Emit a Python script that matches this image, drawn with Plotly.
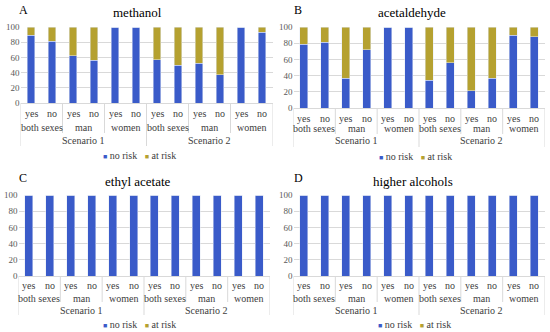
import plotly.graph_objects as go

W, H = 550, 332

scenarios = ["Scenario 1", "Scenario 2"]
groups = ["both sexes", "man", "women"]
answers = ["yes", "no"]

# % of respondents per bar, order: S1 (both yes/no, man yes/no, women yes/no), then S2
methanol_no_risk = [89, 81, 62, 56, 100, 100, 57, 50, 52, 37, 100, 93]
methanol_at_risk = [11, 19, 38, 44, 0, 0, 43, 50, 48, 63, 0, 7]
acetaldehyde_no_risk = [79, 81, 37, 72, 100, 100, 34, 56, 21, 37, 90, 88]
acetaldehyde_at_risk = [21, 19, 63, 28, 0, 0, 66, 44, 79, 63, 10, 12]
ethyl_acetate_no_risk = [100, 100, 100, 100, 100, 100, 100, 100, 100, 100, 100, 100]
ethyl_acetate_at_risk = [0, 0, 0, 0, 0, 0, 0, 0, 0, 0, 0, 0]
higher_alcohols_no_risk = [100, 100, 100, 100, 100, 100, 100, 100, 100, 100, 100, 100]
higher_alcohols_at_risk = [0, 0, 0, 0, 0, 0, 0, 0, 0, 0, 0, 0]

BLUE = "#3A5BC9"
OLIVE = "#B5A130"
GRID = "#d9d9d9"
FONT = "Liberation Serif, Times New Roman, serif"


def px_x(x):
    return x / W


def px_y(y):
    return 1 - y / H


# panel layout in pixels: x range, y range (top, bottom), label rows
panels = [
    dict(letter="A", title="methanol", no=methanol_no_risk, at=methanol_at_risk,
         x0=20.5, x1=272.5, top=27, bot=103, ans=113, grp=127, scn=140,
         grp_line=133, scn_line=146, leg=155, leg_x=139, title_x=137, title_y=12,
         letter_x=23, letter_y=10),
    dict(letter="B", title="acetaldehyde", no=acetaldehyde_no_risk, at=acetaldehyde_at_risk,
         x0=293.5, x1=544.5, top=27, bot=108, ans=118, grp=129, scn=141,
         grp_line=134, scn_line=147, leg=156, leg_x=415, title_x=412, title_y=12,
         letter_x=298, letter_y=10),
    dict(letter="C", title="ethyl acetate", no=ethyl_acetate_no_risk, at=ethyl_acetate_at_risk,
         x0=18.5, x1=269.5, top=195, bot=276, ans=285, grp=298, scn=310,
         grp_line=302, scn_line=315, leg=324, leg_x=139, title_x=138, title_y=181,
         letter_x=23, letter_y=178),
    dict(letter="D", title="higher alcohols", no=higher_alcohols_no_risk, at=higher_alcohols_at_risk,
         x0=293.5, x1=544.5, top=195, bot=276, ans=285, grp=298, scn=310,
         grp_line=302, scn_line=315, leg=324, leg_x=414, title_x=413, title_y=181,
         letter_x=298, letter_y=178),
]

pos = list(range(len(scenarios) * len(groups) * len(answers)))
answer_labels = answers * (len(scenarios) * len(groups))

fig = go.Figure()
annotations = []
shapes = []
layout = {}
label_font = dict(size=10, color="#404040", family=FONT)


def label(x, y, xref, text, font=label_font):
    return dict(x=x, y=y, xref=xref, yref="paper", text=text, showarrow=False,
                xanchor="center", yanchor="middle", font=font)


for i, p in enumerate(panels):
    n = "" if i == 0 else str(i + 1)
    xa, ya = "x" + n, "y" + n
    fig.add_trace(go.Bar(x=pos, y=p["no"], name="no risk", marker_color=BLUE,
                         xaxis=xa, yaxis=ya, showlegend=False))
    fig.add_trace(go.Bar(x=pos, y=p["at"], name="at risk", marker_color=OLIVE,
                         xaxis=xa, yaxis=ya, showlegend=False))

    layout["xaxis" + n] = dict(
        domain=[px_x(p["x0"]), px_x(p["x1"])], range=[-0.5, len(pos) - 0.5],
        showticklabels=False, showgrid=False, zeroline=False, anchor=ya,
        showline=True, linecolor=GRID, linewidth=1, fixedrange=True, automargin=False,
    )
    layout["yaxis" + n] = dict(
        domain=[px_y(p["bot"]), px_y(p["top"])], range=[0, 100], dtick=20,
        showgrid=True, gridcolor=GRID, zeroline=False, anchor=xa,
        tickfont=dict(size=9, color="#595959", family=FONT), ticks="",
        fixedrange=True, automargin=False,
    )

    # yes / no labels
    for x, lab in zip(pos, answer_labels):
        annotations.append(label(x, px_y(p["ans"]), xa, lab))
    # group and scenario labels
    k = 0
    for s_idx, scen in enumerate(scenarios):
        for g in groups:
            annotations.append(label(k + 0.5, px_y(p["grp"]), xa, g))
            k += 2
        annotations.append(label(s_idx * 6 + 2.5, px_y(p["scn"]), xa, scen))

    # hierarchical divider lines
    for b in range(0, len(pos) + 1, 2):
        deep = b % 6 == 0
        shapes.append(dict(type="line", xref=xa, yref="paper", x0=b - 0.5, x1=b - 0.5,
                           y0=px_y(p["bot"]), y1=px_y(p["scn_line"] if deep else p["grp_line"]),
                           line=dict(color=GRID, width=1)))

    # title and panel letter
    annotations.append(label(px_x(p["title_x"]), px_y(p["title_y"]), "paper", p["title"],
                             dict(size=13, color="#000000", family=FONT)))
    annotations.append(label(px_x(p["letter_x"]), px_y(p["letter_y"]), "paper", p["letter"],
                             dict(size=12, color="#000000", family=FONT)))
    # legend
    annotations.append(label(
        px_x(p["leg_x"]), px_y(p["leg"]), "paper",
        f"<span style='color:{BLUE};font-size:7px'>■</span> no risk   "
        f"<span style='color:{OLIVE};font-size:7px'>■</span> at risk"))

fig.update_layout(
    width=W, height=H, margin=dict(l=0, r=0, t=0, b=0),
    barmode="stack", bargap=0.62,
    paper_bgcolor="white", plot_bgcolor="white",
    annotations=annotations, shapes=shapes,
    **layout,
)

fig.write_html("out.html", config={"displayModeBar": False},
               post_script="document.body.style.margin='0';")
